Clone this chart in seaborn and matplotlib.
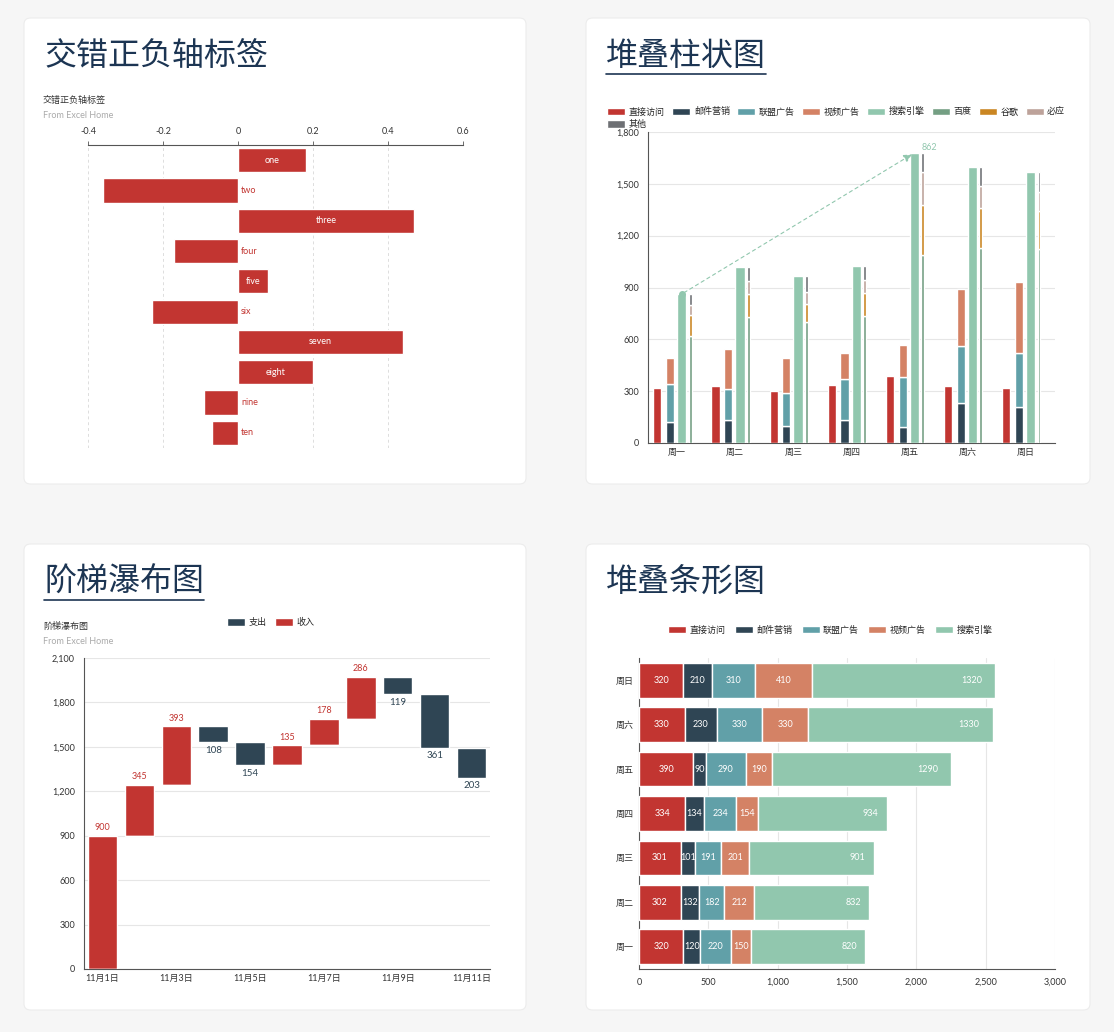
import numpy as np
import pandas as pd
import matplotlib
matplotlib.use("Agg")
import matplotlib.pyplot as plt
import seaborn as sns
from matplotlib.patches import FancyBboxPatch, Patch
from matplotlib.lines import Line2D

sns.set_theme(style="white")
plt.rcParams['font.family'] = ['Lato', 'Noto Sans CJK SC', 'DejaVu Sans']

# ---------- data ----------
neg_cats = ['ten', 'nine', 'eight', 'seven', 'six', 'five', 'four', 'three', 'two', 'one']
neg_vals = [-0.07, -0.09, 0.2, 0.44, -0.23, 0.08, -0.17, 0.47, -0.36, 0.18]

days = ['周一', '周二', '周三', '周四', '周五', '周六', '周日']
direct = [320, 332, 301, 334, 390, 330, 320]
email = [120, 132, 101, 134, 90, 230, 210]
union = [220, 182, 191, 234, 290, 330, 310]
video = [150, 232, 201, 154, 190, 330, 410]
search = [862, 1018, 964, 1026, 1679, 1600, 1570]
baidu = [620, 732, 701, 734, 1090, 1130, 1120]
google = [120, 132, 101, 134, 290, 230, 220]
bing = [60, 72, 71, 74, 190, 130, 110]
other = [62, 82, 91, 84, 109, 110, 120]

wf_dates = ['11月%d日' % i for i in range(1, 12)]
wf_vals = [900, 345, 393, -108, -154, 135, 178, 286, -119, -361, -203]

h_direct = [320, 302, 301, 334, 390, 330, 320]
h_email = [120, 132, 101, 134, 90, 230, 210]
h_union = [220, 182, 191, 234, 290, 330, 310]
h_video = [150, 212, 201, 154, 190, 330, 410]
h_search = [820, 832, 901, 934, 1290, 1330, 1320]

C = ['#c23531', '#2f4554', '#61a0a8', '#d48265', '#91c7ae', '#749f83', '#ca8622', '#bda29a', '#6e7074']
TITLE = '#1c3553'
GRID = '#e6e6e6'
AX = '#555555'

W, H = 1114, 1032
fig = plt.figure(figsize=(W / 100, H / 100), dpi=100)
fig.patch.set_facecolor('#f6f6f6')

def rect(x0, y0, x1, y1):
    return [x0 / W, 1 - y1 / H, (x1 - x0) / W, (y1 - y0) / H]

def card(x0, y0, x1, y1):
    fig.patches.append(FancyBboxPatch((x0 / W, 1 - y1 / H), (x1 - x0) / W, (y1 - y0) / H,
                                      boxstyle="round,pad=0,rounding_size=0.006",
                                      transform=fig.transFigure, facecolor='white',
                                      edgecolor='#ececec', lw=0.8, zorder=-5))

def title(x, y, s, underline=False):
    fig.text(x / W, 1 - y / H, s, fontsize=23, color=TITLE, va='center', ha='left')
    if underline:
        n = len(s)
        fig.add_artist(Line2D([x / W, (x + n * 32) / W], [1 - (y + 18) / H] * 2,
                              color=TITLE, lw=1.2, transform=fig.transFigure))

def small_titles(x, y, s):
    fig.text(x / W, 1 - y / H, s, fontsize=6.5, color='#333333', va='center')
    fig.text(x / W, 1 - (y + 16) / H, 'From Excel Home', fontsize=6.5, color='#aaaaaa', va='center')

card(24, 18, 526, 484)
card(586, 18, 1090, 484)
card(24, 544, 526, 1010)
card(586, 544, 1090, 1010)
title(44, 56, '交错正负轴标签')
title(606, 56, '堆叠柱状图', True)
title(44, 582, '阶梯瀑布图', True)
title(606, 582, '堆叠条形图')
small_titles(43, 100, '交错正负轴标签')
small_titles(43, 626, '阶梯瀑布图')

def style(ax):
    ax.set_facecolor('none')
    for s in ax.spines.values():
        s.set_visible(False)
    ax.tick_params(labelsize=6.5, colors='#333333', length=3, width=0.6)

# ---------- chart 1 ----------
ax1 = fig.add_axes(rect(88, 145, 463, 448))
style(ax1)
df1 = pd.DataFrame({'cat': neg_cats[::-1], 'val': neg_vals[::-1]})
sns.barplot(data=df1, x='val', y='cat', orient='h', color=C[0], saturation=1, width=0.8, ax=ax1)
ax1.set_xlim(-0.4, 0.6)
ax1.set_xticks([-0.4, -0.2, 0, 0.2, 0.4, 0.6])
ax1.set_xticklabels(['-0.4', '-0.2', '0', '0.2', '0.4', '0.6'])
ax1.xaxis.tick_top()
ax1.xaxis.set_label_position('top')
ax1.set_xlabel(''); ax1.set_ylabel('')
ax1.set_yticks([])
ax1.spines['top'].set_visible(True); ax1.spines['top'].set_color(AX); ax1.spines['top'].set_linewidth(0.8)
ax1.tick_params(axis='x', colors=AX, labelcolor='#333333')
for x in [-0.4, -0.2, 0.2, 0.4, 0.6]:
    ax1.axvline(x, color='#dddddd', lw=0.7, ls=(0, (3, 3)), zorder=0)
for i, (c, v) in enumerate(zip(df1['cat'], df1['val'])):
    if v > 0:
        ax1.text(v / 2, i, c, color='white', ha='center', va='center', fontsize=6.5)
    else:
        ax1.text(0.008, i, c, color=C[0], ha='left', va='center', fontsize=6.5)

# ---------- chart 2 ----------
ax2 = fig.add_axes(rect(648, 132, 1055, 443))
style(ax2)
x = np.arange(len(days))
def bars(vals, off, w, col, bottom=None, ax=ax2):
    ax.bar(x + off, vals, width=w, color=col, bottom=bottom, zorder=3)
bars(direct, -0.34, 0.14, C[0])
b = np.zeros(7)
for v, c in zip([email, union, video], C[1:4]):
    bars(v, -0.12, 0.14, c, b); b += np.array(v)
bars(search, 0.08, 0.16, C[4])
b = np.zeros(7)
for v, c in zip([baidu, google, bing, other], C[5:9]):
    bars(v, 0.225, 0.05, c, b); b += np.array(v)
ax2.set_xlim(-0.5, 6.5)
ax2.set_ylim(0, 1800)
ax2.set_yticks(range(0, 1801, 300))
ax2.set_yticklabels([f'{v:,}' for v in range(0, 1801, 300)])
ax2.set_xticks(x); ax2.set_xticklabels(days)
ax2.set_xticks(np.arange(-0.5, 7, 1), minor=True)
ax2.tick_params(axis='x', which='major', length=0)
ax2.tick_params(axis='x', which='minor', length=3, width=0.6, colors=AX)
ax2.grid(axis='y', color=GRID, lw=0.8, zorder=0)
for s in ['left', 'bottom']:
    ax2.spines[s].set_visible(True); ax2.spines[s].set_color(AX); ax2.spines[s].set_linewidth(0.8)
imin, imax = int(np.argmin(search)), int(np.argmax(search))
ax2.annotate('', xy=(imax + 0.08, search[imax]), xytext=(imin + 0.08, search[imin]),
             arrowprops=dict(arrowstyle='-|>', color=C[4], ls=(0, (3, 3)), lw=0.8), zorder=5)
ax2.plot(imin + 0.08, search[imin], 'o', color=C[4], ms=4, zorder=5)
ax2.text(imax + 0.2, search[imax] + 15, str(search[imin]), color=C[4], fontsize=6.5)
names2 = ['直接访问', '邮件营销', '联盟广告', '视频广告', '搜索引擎', '百度', '谷歌', '必应', '其他']
h = [Patch(facecolor=c) for c in C]
leg = ax2.legend(h[:8], names2[:8], ncol=8, loc='lower left', bbox_to_anchor=(-0.1, 1.05),
                 frameon=False, fontsize=6.5, handlelength=2, handleheight=0.9,
                 columnspacing=0.8, handletextpad=0.4, borderaxespad=0, borderpad=0)
ax2.add_artist(leg)
ax2.legend(h[8:], names2[8:], loc='lower left', bbox_to_anchor=(-0.1, 1.01), frameon=False,
           fontsize=6.5, handlelength=2, handleheight=0.9, handletextpad=0.4,
           borderaxespad=0, borderpad=0)

# ---------- chart 3 ----------
ax3 = fig.add_axes(rect(84, 658, 490, 969))
style(ax3)
vals = np.array(wf_vals)
cum = np.cumsum(vals)
base = np.where(vals > 0, cum - vals, cum)
xi = np.arange(len(vals))
inc = np.where(vals > 0, vals, 0)
dec = np.where(vals < 0, -vals, 0)
ax3.bar(xi, inc, bottom=base, width=0.8, color=C[0], zorder=3, label='收入')
ax3.bar(xi, dec, bottom=base, width=0.8, color=C[1], zorder=3, label='支出')
for i, v in enumerate(vals):
    if v > 0:
        ax3.text(i, base[i] + v + 25, str(v), ha='center', va='bottom', fontsize=6.5, color=C[0])
    else:
        ax3.text(i, base[i] - 25, str(-v), ha='center', va='top', fontsize=7, color=C[1])
ax3.set_xlim(-0.5, 10.5)
ax3.set_ylim(0, 2100)
ax3.set_yticks(range(0, 2101, 300))
ax3.set_yticklabels([f'{v:,}' for v in range(0, 2101, 300)])
ax3.set_xticks(xi[::2]); ax3.set_xticklabels(wf_dates[::2])
ax3.set_xticks(np.arange(-0.5, 11, 2), minor=True)
ax3.tick_params(axis='x', which='major', length=0)
ax3.tick_params(axis='x', which='minor', length=3, width=0.6, colors=AX)
ax3.grid(axis='y', color=GRID, lw=0.8, zorder=0)
for s in ['left', 'bottom']:
    ax3.spines[s].set_visible(True); ax3.spines[s].set_color(AX); ax3.spines[s].set_linewidth(0.8)
ax3.legend([Patch(facecolor=C[1]), Patch(facecolor=C[0])], ['支出', '收入'], ncol=2,
           loc='lower center', bbox_to_anchor=(0.46, 1.085), frameon=False, fontsize=6.5,
           handlelength=2, handleheight=0.9, columnspacing=1, handletextpad=0.4, borderpad=0)

# ---------- chart 4 ----------
ax4 = fig.add_axes(rect(639, 658, 1055, 969))
style(ax4)
names4 = ['直接访问', '邮件营销', '联盟广告', '视频广告', '搜索引擎']
series4 = [h_direct, h_email, h_union, h_video, h_search]
left = np.zeros(7)
yi = np.arange(7)
for v, c, n in zip(series4, C[:5], names4):
    v = np.array(v)
    ax4.barh(yi, v, left=left, height=0.78, color=c, zorder=3, label=n)
    for j in range(7):
        ax4.text(left[j] + v[j] / 2 if n != '搜索引擎' else left[j] + v[j] / 2 + 0.43 * v[j],
                 j, str(v[j]), ha='center' if n != '搜索引擎' else 'right', va='center',
                 color='white', fontsize=6.5, zorder=4)
    left += v
ax4.set_xlim(0, 3000)
ax4.set_ylim(-0.5, 6.5)
ax4.set_xticks(range(0, 3001, 500))
ax4.set_xticklabels([f'{v:,}' for v in range(0, 3001, 500)])
ax4.set_yticks(yi); ax4.set_yticklabels(days)
ax4.set_yticks(np.arange(-0.5, 7, 1), minor=True)
ax4.tick_params(axis='y', which='major', length=0)
ax4.tick_params(axis='y', which='minor', length=3, width=0.6, colors=AX)
ax4.grid(axis='x', color=GRID, lw=0.8, zorder=0)
for s in ['left', 'bottom']:
    ax4.spines[s].set_visible(True); ax4.spines[s].set_color(AX); ax4.spines[s].set_linewidth(0.8)
ax4.legend(ncol=5, loc='lower center', bbox_to_anchor=(0.46, 1.06), frameon=False, fontsize=6.5,
           handlelength=2, handleheight=0.9, columnspacing=1, handletextpad=0.4, borderpad=0)

fig.savefig('out.png', dpi=100, facecolor=fig.get_facecolor())
